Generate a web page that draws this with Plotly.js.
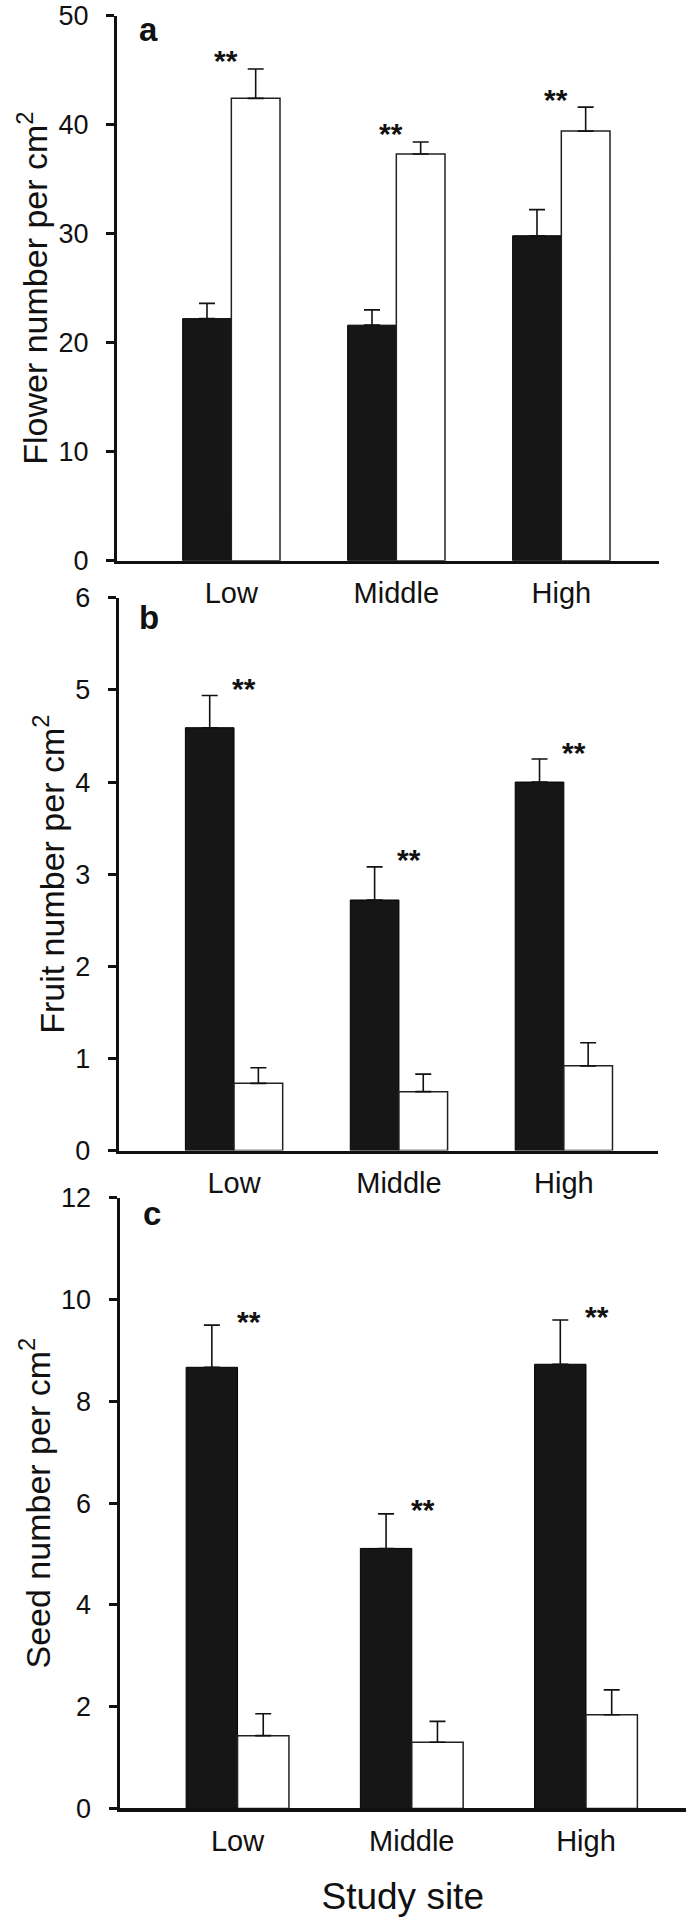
<!DOCTYPE html>
<html><head><meta charset="utf-8">
<script src="https://cdn.plot.ly/plotly-3.0.1.min.js"></script>
<style>html,body{margin:0;padding:0;background:#fff}</style>
</head><body><div id="chart" style="width:689px;height:1918px"></div>
<script>
// ---- data ----
const sites = ["Low", "Middle", "High"];

const flowerBlack    = [22.2, 21.6, 29.8];
const flowerBlackErr = [1.4, 1.4, 2.4];
const flowerWhite    = [42.4, 37.3, 39.4];
const flowerWhiteErr = [2.7, 1.1, 2.2];

const fruitBlack     = [4.59, 2.72, 4.00];
const fruitBlackErr  = [0.35, 0.36, 0.25];
const fruitWhite     = [0.73, 0.64, 0.92];
const fruitWhiteErr  = [0.17, 0.19, 0.25];

const seedBlack      = [8.67, 5.11, 8.73];
const seedBlackErr   = [0.83, 0.68, 0.87];
const seedWhite      = [1.43, 1.30, 1.84];
const seedWhiteErr   = [0.43, 0.41, 0.49];

const yTitles = ["Flower number per cm<sup>2</sup>", "Fruit number per cm<sup>2</sup>", "Seed number per cm<sup>2</sup>"];
const xTitle = "Study site";
const panelLetters = ["a", "b", "c"];
const sigMark = "**";

// ---- styling ----
const FONT = "Liberation Sans, Arial, Helvetica, sans-serif";
const W = 689, H = 1918;
const panels = [
  {black: flowerBlack, blackErr: flowerBlackErr, white: flowerWhite, whiteErr: flowerWhiteErr, sigOn: "white",
   xdom: [117, 659], ydom: [15.5, 560.7], xrange: [-0.693, 2.592], yrange: [0, 50], dtick: 10,
   sigShift: [-5, 8], letterPos: [148.5, 29]},
  {black: fruitBlack, blackErr: fruitBlackErr, white: fruitWhite, whiteErr: fruitWhiteErr, sigOn: "black",
   xdom: [118.6, 658], ydom: [597.8, 1150.6], xrange: [-0.70, 2.571], yrange: [0, 6], dtick: 1,
   sigShift: [10, 7], letterPos: [148.5, 617]},
  {black: seedBlack, blackErr: seedBlackErr, white: seedWhite, whiteErr: seedWhiteErr, sigOn: "black",
   xdom: [119.5, 686], ydom: [1197.9, 1808.4], xrange: [-0.6775, 2.574], yrange: [0, 12], dtick: 2,
   sigShift: [11, 4], letterPos: [151.6, 1213]}
];

const traces = [];
const annotations = [];
const layout = {
  width: W, height: H, autosize: false,
  margin: {l: 0, r: 0, t: 0, b: 0, pad: 0},
  paper_bgcolor: "#ffffff", plot_bgcolor: "rgba(0,0,0,0)",
  showlegend: false, barmode: "group", bargap: 0.41, bargroupgap: 0,
  font: {family: FONT, color: "#111111"}
};

const zeros = sites.map(() => 0);

panels.forEach((p, i) => {
  const n = i === 0 ? "" : String(i + 1);
  const xa = "x" + n, ya = "y" + n;
  const errStyle = (arr) => ({type: "data", symmetric: false, array: arr, arrayminus: zeros,
                              color: "#111111", thickness: 1.6, width: 8, visible: true});
  traces.push({type: "bar", x: sites, y: p.black, xaxis: xa, yaxis: ya, name: "Black",
    marker: {color: "#161616", line: {color: "#000000", width: 1}},
    error_y: errStyle(p.blackErr), hoverinfo: "skip"});
  traces.push({type: "bar", x: sites, y: p.white, xaxis: xa, yaxis: ya, name: "White",
    marker: {color: "#ffffff", line: {color: "#222222", width: 1.5}},
    error_y: errStyle(p.whiteErr), hoverinfo: "skip"});

  const xaxis = {
    type: "category", domain: [p.xdom[0] / W, p.xdom[1] / W], anchor: ya,
    range: p.xrange, showline: true, linecolor: "#111111", linewidth: 3.5,
    ticks: "", showgrid: false, zeroline: false, automargin: false,
    tickfont: {size: 29, family: FONT, color: "#111111"}, ticklabelstandoff: 4,
    ticklabeloverflow: "allow"
  };
  if (i === 2) {
    xaxis.title = {text: xTitle, font: {size: 37, family: FONT, color: "#111111"}, standoff: 28};
  }
  layout["xaxis" + n] = xaxis;
  layout["yaxis" + n] = {
    domain: [1 - p.ydom[1] / H, 1 - p.ydom[0] / H], anchor: xa,
    range: p.yrange, dtick: p.dtick, tick0: 0, showline: true, linecolor: "#111111", linewidth: 3,
    ticks: "outside", ticklen: 8, tickwidth: 3, tickcolor: "#111111",
    showgrid: false, zeroline: false, automargin: false,
    tickfont: {size: 27, family: FONT, color: "#111111"}, ticklabelstandoff: 12,
    ticklabeloverflow: "allow",
    title: {text: yTitles[i], font: {size: 34, family: FONT, color: "#111111"}, standoff: 1}
  };

  // significance marks
  const vals = p.sigOn === "white" ? p.white : p.black;
  const errs = p.sigOn === "white" ? p.whiteErr : p.blackErr;
  sites.forEach((s, j) => {
    annotations.push({xref: xa, yref: ya, x: s, y: vals[j] + errs[j], text: sigMark,
      showarrow: false, xanchor: "center", yanchor: "middle",
      xshift: p.sigShift[0], yshift: p.sigShift[1],
      font: {size: 30, family: FONT, color: "#111111", weight: "bold"}});
  });

  // panel letter
  annotations.push({xref: "paper", yref: "paper", x: p.letterPos[0] / W, y: 1 - p.letterPos[1] / H,
    text: panelLetters[i], showarrow: false, xanchor: "center", yanchor: "middle",
    font: {size: 33, family: FONT, color: "#111111", weight: "bold"}});
});

layout.annotations = annotations;

Plotly.newPlot("chart", traces, layout, {staticPlot: true, displayModeBar: false});
</script>
</body></html>
